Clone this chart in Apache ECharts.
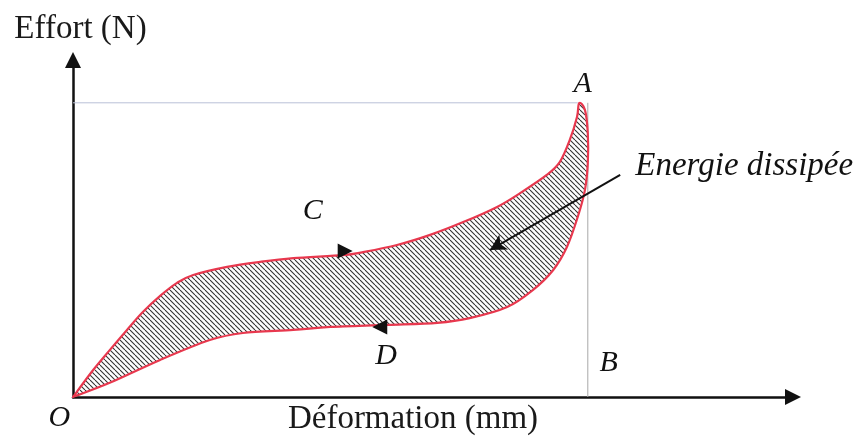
<!DOCTYPE html>
<html>
<head>
<meta charset="utf-8">
<script src="https://cdn.jsdelivr.net/npm/echarts@6/dist/echarts.min.js"></script>
<style>
html,body{margin:0;padding:0;background:#fff;}
#chart{width:857px;height:441px;}
</style>
</head>
<body>
<div id="chart"></div>
<script>
// Loading path O -> C -> A  [deformation, force]
const loadingCurve = [
  [0,0],[2.8,8.0],[5.1,13.9],[7.5,19.9],[9.7,25.2],[12.1,30.0],[14.4,33.8],
  [16.7,36.2],[21.4,38.6],[26.0,40.1],[30.6,41.2],[37.5,42.1],[40.3,43.0],
  [45.0,45.1],[49.6,48.1],[54.2,51.9],[58.9,56.4],[62.1,60.5],[65.8,65.9],
  [67.6,69.7],[69.0,76.3],[70.0,83.1],[70.3,87.2]
];
// Unloading path A -> D -> O
const unloadingCurve = [
  [71.1,85.2],[71.5,78.3],[71.5,69.4],[71.1,61.4],[70.1,53.4],[68.6,44.5],
  [66.7,37.7],[63.9,31.8],[60.3,26.7],[55.1,23.4],[50.6,22.0],[43.6,21.4],
  [35.7,20.8],[30.6,19.9],[23.6,19.0],[19.0,16.9],[12.1,11.0],[5.1,4.2],[0,0]
];
const peakForce = 87.3;      // level of point A
const peakDeform = 71.5;     // deformation at point B
const loadArrow = [37.8, 43.3];
const unloadArrow = [42.6, 20.8];
const pointLabels = [
  {name:'A', value:[70.8,92.9]},
  {name:'B', value:[74.4,10.1]},
  {name:'C', value:[33.3,55.2]},
  {name:'D', value:[43.5,12.2]},
  {name:'O', value:[-1.9,-6.2]}
];
const energyLabel = {name:'Energie dissipée', value:[78.1,68.5]};
const energyPointer = [[76.0,65.9],[57.9,43.6]];
const xTitle = 'Déformation (mm)';
const yTitle = 'Effort (N)';

const loop = loadingCurve.concat(unloadingCurve);

// Catmull-Rom smoothing of the pixel path into cubic Bézier commands
function smoothPath(pts){
  const n = pts.length;
  let d = 'M' + pts[0][0] + ' ' + pts[0][1];
  for (let i = 0; i < n - 1; i++) {
    const p0 = pts[i - 1] || pts[i];
    const p1 = pts[i];
    const p2 = pts[i + 1];
    const p3 = pts[i + 2] || pts[i + 1];
    const c1 = [p1[0] + (p2[0] - p0[0]) / 6, p1[1] + (p2[1] - p0[1]) / 6];
    const c2 = [p2[0] - (p3[0] - p1[0]) / 6, p2[1] - (p3[1] - p1[1]) / 6];
    d += ' C' + c1[0] + ' ' + c1[1] + ' ' + c2[0] + ' ' + c2[1] + ' ' + p2[0] + ' ' + p2[1];
  }
  return d + ' Z';
}

function hatchPattern(){
  const w = 5, h = 5;
  const c = document.createElement('canvas');
  c.width = w; c.height = h;
  const g = c.getContext('2d');
  g.strokeStyle = '#333';
  g.lineWidth = 1.1;
  for (const dx of [-w, 0, w]) {
    g.beginPath(); g.moveTo(dx, 0); g.lineTo(dx + w, h); g.stroke();
  }
  return c;
}
const pattern = {image: hatchPattern(), repeat: 'repeat'};

const serif = '"Liberation Serif", "DejaVu Serif", serif';
const chart = echarts.init(document.getElementById('chart'), null, {renderer:'canvas'});
chart.setOption({
  animation: false,
  backgroundColor: '#fff',
  grid: {left: 73, right: 64, top: 60, bottom: 44},
  xAxis: {
    type: 'value', min: 0, max: 100,
    name: xTitle, nameLocation: 'middle', nameGap: 6,
    nameTextStyle: {fontFamily: serif, fontSize: 33, color: '#1a1a1a', verticalAlign: 'top', padding: [0, 40, 0, 0]},
    axisLine: {show: true, symbol: ['none','triangle'], symbolSize: [16,16], symbolOffset: [0, 0],
               lineStyle: {color:'#111', width: 2.5}},
    axisTick: {show:false}, axisLabel: {show:false}, splitLine: {show:false}
  },
  yAxis: {
    type: 'value', min: 0, max: 100,
    name: yTitle, nameLocation: 'end', nameGap: 14,
    nameTextStyle: {fontFamily: serif, fontSize: 33, color: '#1a1a1a', align: 'center', padding: [0, 0, 0, 15]},
    axisLine: {show: true, symbol: ['none','triangle'], symbolSize: [16,16], symbolOffset: [0, 0],
               lineStyle: {color:'#111', width: 2.5}},
    axisTick: {show:false}, axisLabel: {show:false}, splitLine: {show:false}
  },
  series: [
    {
      type: 'line', data: [[0,peakForce],[peakDeform-1.4,peakForce]],
      symbol: 'none', lineStyle: {color:'#b9c0d8', width:1}, silent: true, z: 1
    },
    {
      type: 'line', data: [[peakDeform,0],[peakDeform,peakForce]],
      symbol: 'none', lineStyle: {color:'#a8a8a8', width:1}, silent: true, z: 1
    },
    {
      type: 'custom',
      data: loop,
      encode: {x: 0, y: 1},
      z: 3,
      renderItem: function(params, api){
        if (params.dataIndex !== 0) return null;
        const pts = loop.map(p => api.coord(p));
        return {
          type: 'path',
          shape: {pathData: smoothPath(pts), layout: 'center'},
          style: {fill: pattern, stroke: '#e8384e', lineWidth: 2.2, lineJoin: 'round'}
        };
      }
    },
    {
      type: 'scatter', z: 5,
      data: [
        {value: loadArrow, symbolRotate: -90},
        {value: unloadArrow, symbolRotate: 90}
      ],
      symbol: 'triangle', symbolSize: [15, 15],
      itemStyle: {color: '#111', opacity: 1}, silent: true
    },
    {
      type: 'line', data: [], z: 6,
      markLine: {
        silent: true, animation: false,
        symbol: ['none','arrow'], symbolSize: [13, 16],
        label: {show:false},
        lineStyle: {color:'#111', width: 2, type: 'solid'},
        data: [[{coord: energyPointer[0]}, {coord: energyPointer[1]}]]
      }
    },
    {
      type: 'scatter', z: 7, clip: false, silent: true,
      data: pointLabels, symbolSize: 0, itemStyle: {opacity: 1},
      label: {
        show: true, position: 'inside', formatter: '{b}',
        fontFamily: serif, fontStyle: 'italic', fontSize: 30, color: '#111', opacity: 1
      }
    },
    {
      type: 'scatter', z: 7, clip: false, silent: true,
      data: [energyLabel], symbolSize: 0, itemStyle: {opacity: 1},
      label: {
        show: true, position: 'right', distance: 0, formatter: '{b}',
        fontFamily: serif, fontStyle: 'italic', fontSize: 33, color: '#111', opacity: 1
      }
    }
  ]
});
</script>
</body>
</html>
